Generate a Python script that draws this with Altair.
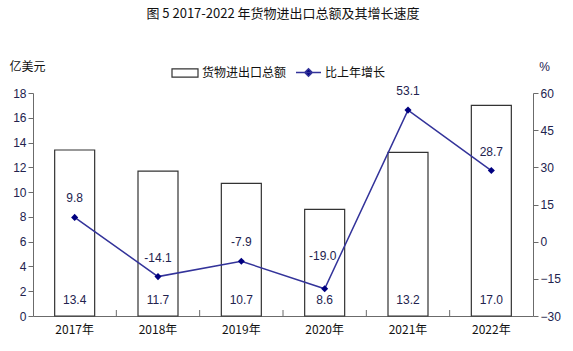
import altair as alt
import pandas as pd

years = ["2017年", "2018年", "2019年", "2020年", "2021年", "2022年"]
totals = [13.4, 11.7, 10.7, 8.6, 13.2, 17.0]
growth = [9.8, -14.1, -7.9, -19.0, 53.1, 28.7]
left_ticks = [0, 2, 4, 6, 8, 10, 12, 14, 16, 18]
right_ticks = [-30, -15, 0, 15, 30, 45, 60]
bar_name = "货物进出口总额"
line_name = "比上年增长"

df = pd.DataFrame({
    "year": years,
    "total": totals,
    "growth": growth,
    "bar_series": [bar_name] * len(years),
    "line_series": [line_name] * len(years),
})
df["total_label"] = [f"{v:.1f}" for v in totals]
df["growth_label"] = [f"{v:.1f}" for v in growth]
boundary_df = pd.DataFrame({"year": years[1:]})

NUM_FONT = "Liberation Sans"
CJK_FONT = "Noto Sans CJK SC"
AXIS_COLOR = "#6b6b6b"
TEXT_COLOR = "#22224e"
LINE_COLOR = "#33339a"
MARKER_COLOR = "#000080"

x_enc = alt.X(
    "year:N", sort=years, title=None,
    scale=alt.Scale(paddingInner=0, paddingOuter=0),
    axis=alt.Axis(labelAngle=0, ticks=False, domainColor=AXIS_COLOR,
                  labelFont=CJK_FONT, labelFontSize=12, labelColor="#111111",
                  labelPadding=8),
)

bars = alt.Chart(df).mark_bar(
    width={"band": 0.48}, stroke="#333333", strokeWidth=1.2
).encode(
    x=x_enc,
    y=alt.Y(
        "total:Q", title="亿美元",
        scale=alt.Scale(domain=[0, 18], nice=False, zero=True),
        axis=alt.Axis(values=left_ticks, grid=False, tickSize=5, tickColor=AXIS_COLOR,
                      domainColor=AXIS_COLOR, labelFont=NUM_FONT, labelFontSize=12,
                      labelColor=TEXT_COLOR, labelPadding=2, labelOverlap=False,
                      titleAngle=0, titleX=-6, titleY=-27, titleAlign="center",
                      titleBaseline="middle", titleFont=CJK_FONT, titleFontSize=12,
                      titleFontWeight="normal", titleColor="#111111"),
    ),
    fill=alt.Fill(
        "bar_series:N", title=None,
        scale=alt.Scale(domain=[bar_name], range=["white"]),
        legend=alt.Legend(orient="none", legendX=138, legendY=-34, padding=0,
                          symbolType="M-1,-0.31H1V0.31H-1Z", symbolSize=676,
                          symbolStrokeColor="#333333", symbolStrokeWidth=1.2,
                          labelFont=CJK_FONT, labelFontSize=12, labelColor="#111111",
                          labelOffset=3),
    ),
)

bar_text = alt.Chart(df).mark_text(
    font=NUM_FONT, fontSize=12, color=TEXT_COLOR, baseline="middle"
).encode(
    x=alt.X("year:N", sort=years),
    y=alt.value(207),
    text="total_label:N",
)

boundary_ticks = alt.Chart(boundary_df).mark_rule(color=AXIS_COLOR, strokeWidth=1).encode(
    x=alt.X("year:N", sort=years, bandPosition=0),
    y=alt.value(223),
    y2=alt.value(217),
)

left = alt.layer(bars, bar_text, boundary_ticks)

right_axis = alt.Axis(
    orient="right", values=right_ticks, tickCount=7, grid=False, tickSize=5,
    tickColor=AXIS_COLOR, domainColor=AXIS_COLOR, labelFont=NUM_FONT,
    labelFontSize=12, labelColor=TEXT_COLOR, labelPadding=2,
    labelOverlap=False,
    titleAngle=0, titleX=11, titleY=-27, titleAlign="center",
    titleBaseline="middle", titleFont=NUM_FONT, titleFontSize=12,
    titleFontWeight="normal", titleColor=TEXT_COLOR,
)
right_scale = alt.Scale(domain=[-30, 60], nice=False, zero=False)


def y_right():
    return alt.Y("growth:Q", title="%", scale=right_scale, axis=right_axis)


line = alt.Chart(df).mark_line(strokeWidth=1.5).encode(
    x=alt.X("year:N", sort=years),
    y=y_right(),
    stroke=alt.Stroke(
        "line_series:N", title=None,
        scale=alt.Scale(domain=[line_name], range=[LINE_COLOR]),
        legend=alt.Legend(orient="none", legendX=262, legendY=-34, padding=0,
                          symbolType="M-1,0H1M0,-0.3L0.3,0L0,0.3L-0.3,0Z",
                          symbolSize=625, symbolFillColor=MARKER_COLOR,
                          symbolStrokeWidth=1.5,
                          labelFont=CJK_FONT, labelFontSize=12, labelColor="#111111",
                          labelOffset=3),
    ),
)

points = alt.Chart(df).mark_point(
    shape="diamond", filled=True, size=50, color=MARKER_COLOR, opacity=1
).encode(
    x=alt.X("year:N", sort=years),
    y=y_right(),
)

line_text = alt.Chart(df).transform_filter(
    alt.datum.year != "2020年"
).mark_text(
    font=NUM_FONT, fontSize=12, color=TEXT_COLOR, baseline="middle", dy=-19
).encode(
    x=alt.X("year:N", sort=years),
    y=y_right(),
    text="growth_label:N",
)

line_text_2020 = alt.Chart(df).transform_filter(
    alt.datum.year == "2020年"
).mark_text(
    font=NUM_FONT, fontSize=12, color=TEXT_COLOR, baseline="middle", dy=-33, dx=-2
).encode(
    x=alt.X("year:N", sort=years),
    y=y_right(),
    text="growth_label:N",
)

right = alt.layer(line, points, line_text, line_text_2020)

chart = alt.layer(left, right).resolve_scale(
    y="independent"
).properties(
    width=500,
    height=223,
    title=alt.TitleParams(
        "图 5 2017-2022 年货物进出口总额及其增长速度",
        font=CJK_FONT, fontSize=13, fontWeight="normal", color="#111111",
        anchor="middle", offset=38,
    ),
    autosize=alt.AutoSizeParams(type="none"),
    padding={"left": 33, "top": 93, "right": 40, "bottom": 35},
).configure_view(stroke=None)

chart.save("out.html", embed_options={"renderer": "svg", "actions": False})
